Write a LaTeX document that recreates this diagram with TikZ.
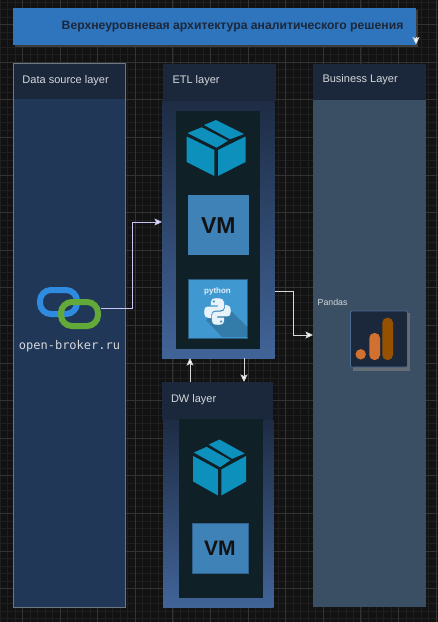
\documentclass[tikz,border=0pt]{standalone}
\usepackage{fontspec}
\setmainfont{Liberation Sans}
\newfontfamily\monof{DejaVu Sans Mono}
\usetikzlibrary{arrows.meta}
\definecolor{bgc}{HTML}{121212}
\definecolor{gmin}{HTML}{1F1F1F}
\definecolor{gmaj}{HTML}{333333}
\definecolor{titleblue}{HTML}{2F75BD}
\definecolor{titleshadow}{HTML}{3C3C3C}
\definecolor{headc}{HTML}{1B283B}
\definecolor{srcbody}{HTML}{203757}
\definecolor{srcline}{HTML}{6E7680}
\definecolor{bodytop}{HTML}{1E2C44}
\definecolor{bodybot}{HTML}{416498}
\definecolor{inner}{HTML}{0F2027}
\definecolor{bizbody}{HTML}{3A4F63}
\definecolor{boxc}{HTML}{0E90BC}
\definecolor{vmc}{HTML}{3F82B8}
\definecolor{pyc}{HTML}{3F98CF}
\definecolor{txtc}{HTML}{D5D8DC}
\definecolor{lilac}{HTML}{C9C6F5}
\definecolor{gaor}{HTML}{D2702F}
\definecolor{gadk}{HTML}{955000}
\definecolor{linkb}{HTML}{2F8BE0}
\definecolor{linkg}{HTML}{62A93A}
\tikzset{
  x=1pt,y=-1pt,
  lay/.style={inner sep=0,outer sep=0,anchor=west,font=\fontsize{11}{13}\selectfont,text=txtc},
  conn/.style={draw=white!85!black,line width=0.9pt,-{Stealth[length=7.5pt,width=7pt,inset=1.5pt,fill=white]}},
  connb/.style={draw=lilac,line width=0.9pt,-{Stealth[length=7.5pt,width=7pt,inset=1.5pt,fill=lilac!50!white]}},
  vmt/.style={font=\bfseries\fontsize{23}{24}\selectfont,text=bgc,inner sep=0},
  ring/.style={line width=6pt,rounded corners=11pt},
}
\newcommand{\cube}[3]{%
 \begin{scope}[shift={(#1,#2)},xscale=#3]
  \fill[boxc] (-28.5,-2.5) -- (-14.3,-8.2) -- (12,5.2) -- (.7,12.2) -- cycle;
  \fill[boxc] (-12,-10.5) -- (0,-15.5) -- (28,-1.5) -- (14,3.8) -- cycle;
  \fill[boxc] (-29.3,1) -- (-1.7,14.5) -- (-1.7,40.5) -- (-29.3,26.5) -- cycle;
  \fill[boxc] (2,14.5) -- (29.5,1) -- (29.5,26.5) -- (2,40.5) -- cycle;
 \end{scope}}
\begin{document}
\begin{tikzpicture}
\useasboundingbox (0,0) rectangle (438,622);
\fill[bgc] (0,0) rectangle (438,622);
\foreach \i in {-2,...,58} \draw[gmin,line width=.5pt] ({7.52*\i+7.36},0) -- ++(0,622);
\foreach \i in {-3,...,82} \draw[gmin,line width=.5pt] (0,{7.52*\i+9.46}) -- ++(438,0);
\foreach \i in {0,...,11} \draw[gmaj,line width=.7pt] ({22.4+37.6*\i},0) -- ++(0,622);
\foreach \i in {0,...,15} \draw[gmaj,line width=.7pt] (0,{24.5+37.6*\i}) -- ++(438,0);
% title
\fill[titleshadow] (15,9.5) rectangle (418,47);
\node[fill=titleblue,minimum width=403pt,minimum height=37pt,inner sep=0,outer sep=0,anchor=north west] (title) at (13.3,7.6) {};
\node[anchor=west,inner sep=0,font=\bfseries\fontsize{12.2}{14}\selectfont,text=headc] (titlet) at (61.5,26.5) {Верхнеуровневая архитектура аналитического решения};
\coordinate (tA) at (416,36.8);
\coordinate (tB) at (416,44.5);
\draw[conn] (tA) -- (tB);
% source
\node[fill=srcbody,draw=srcline,line width=.7pt,minimum width=112pt,minimum height=544pt,inner sep=0,outer sep=0,anchor=north west] (src) at (13.5,63.5) {};
\fill[headc] (13.5,63.5) rectangle (125.5,99);
\draw[srcline,line width=.7pt] (13.5,99) |- (125.5,63.5) -- (125.5,99);
\node[lay] (srct) at (22.5,81) {Data source layer};
\draw[ring,linkb] (40,290) rectangle (77,314);
\draw[ring,linkg] (61,302) rectangle (98,326);
\coordinate (linkE) at (101,308);
\node[inner sep=0,font=\monof\fontsize{12}{14}\selectfont,text=txtc] (linkt) at (69.5,346) {open-broker.ru};
% ETL
\fill[top color=bodytop,bottom color=bodybot] (162,101) rectangle (274.5,358);
\coordinate (etlW) at (162,222);
\coordinate (etlUp) at (190,358);
\coordinate (etlDn) at (244,358);
\coordinate (etlE) at (275,291);
\fill[headc] (163.3,64) rectangle (275.5,101);
\node[lay] (etlt) at (172.5,81) {ETL layer};
\node[fill=inner,minimum width=84pt,minimum height=238pt,inner sep=0,outer sep=0,anchor=north west] (etli) at (176,110.5) {};
\cube{216}{135.5}{1}
\node[fill=vmc,minimum width=61pt,minimum height=60pt,inner sep=0,anchor=north west,vmt] (vm1) at (187.7,195) {VM};
\node[fill=pyc,draw=vmc!70!black,line width=.5pt,minimum width=59pt,minimum height=59pt,inner sep=0,anchor=north west] (py) at (188.3,278.5) {};
\fill[black,opacity=.18] (217,309) -- (232,312) -- (247.5,327) -- (247.5,337) -- (222,337) -- (206,320) -- cycle;
\node[font=\bfseries\fontsize{8}{9}\selectfont,text=white!85!pyc,inner sep=0] (pyt) at (217.5,291) {python};
\begin{scope}[shift={(217.5,311.5)},scale=.95]
 \fill[white!88!pyc] (-.5,-14) .. controls (-6,-14) and (-7,-12) .. (-7,-9.5) -- (-7,-6.5) -- (.3,-6.5) -- (.3,-5.2) -- (-10,-5.2) .. controls (-14,-5.2) and (-14,-1) .. (-14,.5) .. controls (-14,5) and (-12,7) .. (-9,7) -- (-6.5,7) -- (-6.5,3) .. controls (-6.5,0) and (-4.5,-1) .. (-2,-1) -- (3,-1) .. controls (5.5,-1) and (7,-3) .. (7,-5) -- (7,-9.5) .. controls (7,-12) and (5,-14) .. (-.5,-14) -- cycle;
 \fill[white!88!pyc] (.5,14) .. controls (6,14) and (7,12) .. (7,9.5) -- (7,6.5) -- (-.3,6.5) -- (-.3,5.2) -- (10,5.2) .. controls (14,5.2) and (14,1) .. (14,-.5) .. controls (14,-5) and (12,-7) .. (9,-7) -- (7.8,-7) -- (7.8,-3.5) .. controls (7.8,-1) and (5.5,.2) .. (3,.2) -- (-2,.2) .. controls (-4.5,.2) and (-6,2) .. (-6,5) -- (-6,9.5) .. controls (-6,12) and (-5,14) .. (.5,14) -- cycle;
 \fill[pyc] (-3.8,-10.6) circle (1.3);
 \fill[pyc] (3.8,10.6) circle (1.3);
\end{scope}
% DW
\fill[top color=bodytop,bottom color=bodybot] (163,420) rectangle (273.5,607.5);
\fill[headc] (162.3,382) rectangle (273,420);
\coordinate (dwUp) at (190,382);
\coordinate (dwDn) at (244,382);
\node[lay] (dwt) at (171,400) {DW layer};
\node[fill=inner,minimum width=84pt,minimum height=179pt,inner sep=0,outer sep=0,anchor=north west] (dwi) at (178.7,419) {};
\cube{219.5}{455}{.9}
\node[fill=vmc,draw=vmc!75!black,line width=.5pt,minimum width=56pt,minimum height=50pt,inner sep=0,anchor=north west,vmt,font=\bfseries\fontsize{21}{22}\selectfont] (vm2) at (191.5,523) {VM};
% Business
\node[fill=bizbody,minimum width=113pt,minimum height=507pt,inner sep=0,outer sep=0,anchor=north west] (biz) at (313,100) {};
\fill[headc] (313,63.5) rectangle (426,100);
\coordinate (bizW) at (313,335);
\node[lay] (bizt) at (322.5,80) {Business Layer};
\node[font=\fontsize{8.8}{10}\selectfont,text=txtc,inner sep=0,anchor=west] (pand) at (317.5,302.5) {Pandas};
\fill[gray!60!bizbody] (352.5,313) rectangle (409.5,370.5);
\node[fill=headc,draw=bodybot!80!gray,line width=.8pt,rounded corners=1pt,minimum width=57pt,minimum height=56pt,inner sep=0,outer sep=0,anchor=north west] (ga) at (350.5,311) {};
\fill[gaor] (360.7,354.3) circle (5.2);
\fill[gaor,rounded corners=5pt] (369.3,333) rectangle (380,360);
\fill[gadk,rounded corners=5pt] (382.3,317.7) rectangle (393,360);
% connectors
\draw[connb] (linkE) -| (132,222) -- (etlW);
\draw[conn] (etlE) -| (293.5,335) -- (bizW);
\draw[conn] (dwUp) -- (etlUp);
\draw[conn] (etlDn) -- (dwDn);
\end{tikzpicture}
\end{document}
